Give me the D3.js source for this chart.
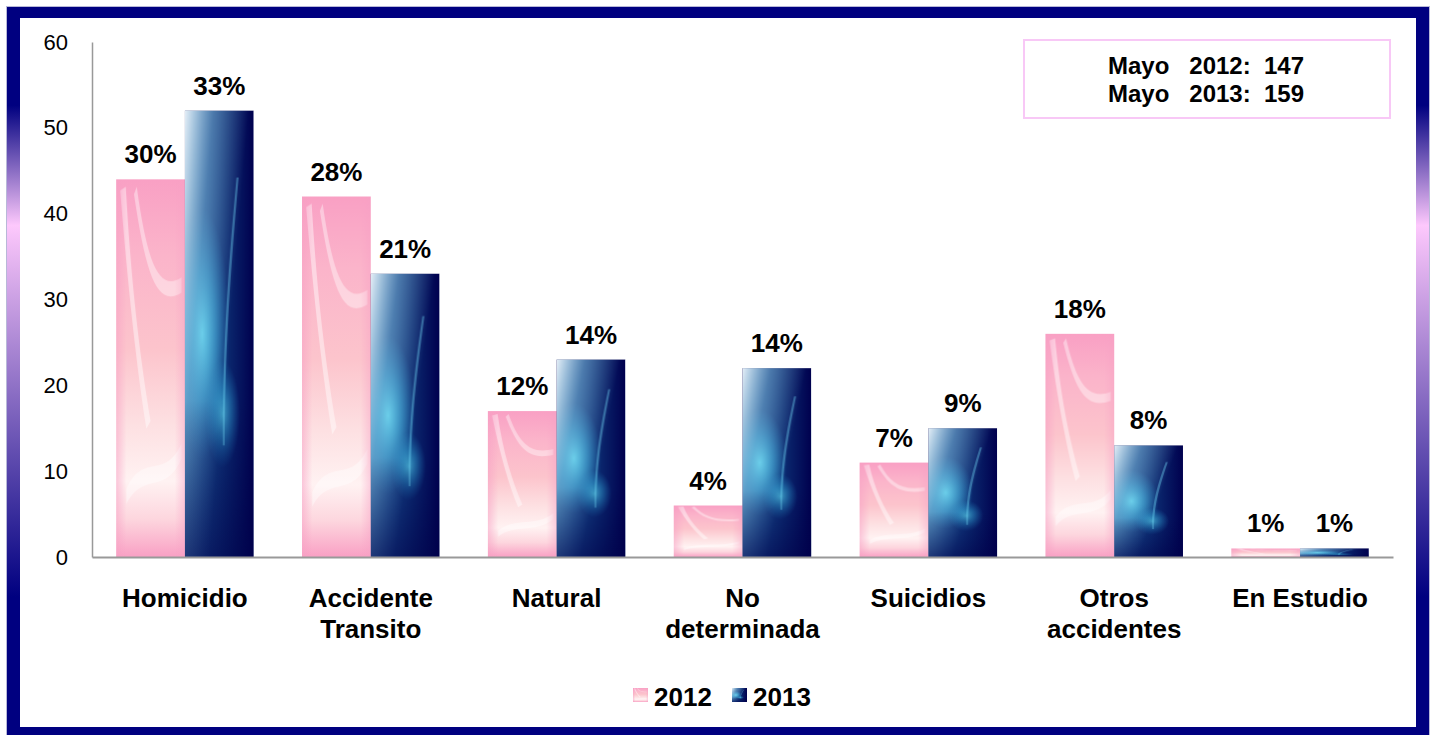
<!DOCTYPE html>
<html>
<head>
<meta charset="utf-8">
<script src="https://cdn.jsdelivr.net/npm/d3@7"></script>
<style>
  body { margin: 0; background: #fff; }
  text { font-family: Arial, "Liberation Sans", sans-serif; }
</style>
</head>
<body>
<script>
var categories = [["Homicidio"], ["Accidente", "Transito"], ["Natural"], ["No", "determinada"], ["Suicidios"], ["Otros", "accidentes"], ["En Estudio"]];
var values2012 = [44, 42, 17, 6, 11, 26, 1];
var values2013 = [52, 33, 23, 22, 15, 13, 1];
var pct2012 = ["30%", "28%", "12%", "4%", "7%", "18%", "1%"];
var pct2013 = ["33%", "21%", "14%", "14%", "9%", "8%", "1%"];
var yTicks = [0, 10, 20, 30, 40, 50, 60];
var seriesNames = ["2012", "2013"];
var totalsText = ["Mayo   2012:  147", "Mayo   2013:  159"];

var width = 1430, height = 735;

var svg = d3.select("body").append("svg")
    .attr("width", width)
    .attr("height", height);

var defs = svg.append("defs");

function linGrad(id, x1, y1, x2, y2, stops) {
  var g = defs.append("linearGradient").attr("id", id)
      .attr("x1", x1).attr("y1", y1).attr("x2", x2).attr("y2", y2);
  stops.forEach(function(s) {
    g.append("stop").attr("offset", s[0]).attr("stop-color", s[1])
     .attr("stop-opacity", s[2] == null ? 1 : s[2]);
  });
  return g;
}

// frame side gradient
linGrad("gSide", 0, 0, 0, 1, [[0, "#000080"], [0.135, "#000080"], [0.30, "#fdc8fc"], [0.81, "#000080"], [1, "#000080"]]);

// pink bar look
linGrad("gPinkV", 0, 0, 0, 1, [[0, "#f9a0c4"], [0.2, "#fbb4ca"], [0.45, "#fcc4cc"], [0.65, "#fde0e2"], [0.8, "#fff2f2"], [0.9, "#fdd6de"], [1, "#f9a0c4"]]);
linGrad("gPinkH", 0, 0, 1, 0, [[0, "#f7a0c4", 0.55], [0.15, "#f7a0c4", 0], [0.85, "#f7a0c4", 0], [1, "#f7a0c4", 0.45]]);

// blue bar look
linGrad("gBlueH", 0, 0, 1, 0, [[0, "#2f74ac"], [0.25, "#1b5091"], [0.6, "#0b2a70"], [1, "#00004e"]]);
linGrad("gBlueTop", 0, 0, 0.7, 0.4, [[0, "#eef4fa", 0.95], [0.45, "#8fc0de", 0.45], [1, "#8fc0de", 0]]);
linGrad("gBlueBot", 0, 0, 0, 1, [[0, "#00004a", 0], [0.65, "#00004a", 0], [1, "#00004a", 0.6]]);
var rc = defs.append("radialGradient").attr("id", "rCyan");
rc.append("stop").attr("offset", 0).attr("stop-color", "#5fe4fa").attr("stop-opacity", 0.9);
rc.append("stop").attr("offset", 0.5).attr("stop-color", "#38bce8").attr("stop-opacity", 0.5);
rc.append("stop").attr("offset", 1).attr("stop-color", "#2aa0d8").attr("stop-opacity", 0);

var pPink = defs.append("pattern").attr("id", "pPink")
    .attr("patternUnits", "objectBoundingBox").attr("patternContentUnits", "objectBoundingBox")
    .attr("width", 1).attr("height", 1);
pPink.append("rect").attr("width", 1).attr("height", 1).attr("fill", "url(#gPinkV)");
pPink.append("path").attr("d", "M0.06,0.03 C0.18,0.3 0.3,0.5 0.44,0.66 L0.5,0.64 C0.34,0.46 0.22,0.28 0.14,0.02 Z")
    .attr("fill", "#fff").attr("opacity", 0.45);
pPink.append("path").attr("d", "M0.3,0.02 C0.45,0.22 0.62,0.3 0.95,0.26 L0.95,0.3 C0.6,0.34 0.44,0.26 0.26,0.04 Z")
    .attr("fill", "#fff").attr("opacity", 0.4);
pPink.append("path").attr("d", "M0.15,0.82 C0.4,0.72 0.7,0.8 0.95,0.7 L0.95,0.74 C0.7,0.84 0.4,0.77 0.15,0.86 Z")
    .attr("fill", "#fff").attr("opacity", 0.4);
pPink.append("rect").attr("width", 1).attr("height", 1).attr("fill", "url(#gPinkH)");

var pBlue = defs.append("pattern").attr("id", "pBlue")
    .attr("patternUnits", "objectBoundingBox").attr("patternContentUnits", "objectBoundingBox")
    .attr("width", 1).attr("height", 1);
pBlue.append("rect").attr("width", 1).attr("height", 1).attr("fill", "url(#gBlueH)");
pBlue.append("ellipse").attr("cx", 0.25).attr("cy", 0.5).attr("rx", 0.4).attr("ry", 0.28).attr("fill", "url(#rCyan)");
pBlue.append("ellipse").attr("cx", 0.55).attr("cy", 0.68).attr("rx", 0.25).attr("ry", 0.12).attr("fill", "url(#rCyan)").attr("opacity", 0.7);
pBlue.append("path").attr("d", "M0.75,0.15 C0.6,0.4 0.55,0.55 0.55,0.75 L0.58,0.75 C0.58,0.55 0.64,0.4 0.78,0.15 Z")
    .attr("fill", "#6fd8f4").attr("opacity", 0.4);
pBlue.append("rect").attr("width", 1).attr("height", 1).attr("fill", "url(#gBlueTop)");
pBlue.append("rect").attr("width", 1).attr("height", 1).attr("fill", "url(#gBlueBot)");

// frame
svg.append("rect").attr("x", 6.5).attr("y", 6.5).attr("width", 1423).attr("height", 729)
    .attr("fill", "#000080").attr("stroke", "#b8b8d8").attr("stroke-width", 1);
svg.append("rect").attr("x", 7).attr("y", 7).attr("width", 13).attr("height", 728).attr("fill", "url(#gSide)");
svg.append("rect").attr("x", 1416).attr("y", 7).attr("width", 13).attr("height", 728).attr("fill", "url(#gSide)");
svg.append("rect").attr("x", 7).attr("y", 7).attr("width", 1422).attr("height", 11).attr("fill", "#000080");
svg.append("rect").attr("x", 7).attr("y", 727).attr("width", 1422).attr("height", 8).attr("fill", "#000080");
svg.append("rect").attr("x", 20).attr("y", 18).attr("width", 1396).attr("height", 709).attr("fill", "#fff");

var x = d3.scaleBand().domain(d3.range(categories.length))
    .range([92, 1393]).paddingInner(0.26).paddingOuter(0.13);
var y = d3.scaleLinear().domain([0, 60]).range([557, 42]);
var half = x.bandwidth() / 2;

// y axis
var yAxis = svg.append("g").attr("transform", "translate(92,0)")
    .call(d3.axisLeft(y).tickValues(yTicks).tickSize(0).tickSizeOuter(0).tickPadding(24));
yAxis.select(".domain").attr("stroke", "#999").attr("stroke-width", 1.5);
yAxis.selectAll("text").attr("font-size", 22).attr("fill", "#000")
    .style("font-family", "Arial, 'Liberation Sans', sans-serif");

// bars
var groups = svg.append("g").selectAll("g")
    .data(categories).enter().append("g");

groups.append("rect")
    .attr("x", function(d, i) { return x(i); })
    .attr("y", function(d, i) { return y(values2012[i]); })
    .attr("width", half)
    .attr("height", function(d, i) { return y(0) - y(values2012[i]); })
    .attr("fill", "url(#pPink)");

groups.append("rect")
    .attr("x", function(d, i) { return x(i) + half; })
    .attr("y", function(d, i) { return y(values2013[i]); })
    .attr("width", half)
    .attr("height", function(d, i) { return y(0) - y(values2013[i]); })
    .attr("fill", "url(#pBlue)");

// x axis
var xAxis = svg.append("g").attr("transform", "translate(0,557)")
    .call(d3.axisBottom(x).tickSize(0).tickSizeOuter(0).tickFormat(""));
xAxis.select(".domain").attr("stroke", "#999").attr("stroke-width", 2);

// percent labels
groups.append("text")
    .attr("x", function(d, i) { return x(i) + half / 2; })
    .attr("y", function(d, i) { return y(values2012[i]) - 16; })
    .attr("text-anchor", "middle").attr("font-size", 26).attr("font-weight", "bold")
    .text(function(d, i) { return pct2012[i]; });

groups.append("text")
    .attr("x", function(d, i) { return x(i) + half * 1.5; })
    .attr("y", function(d, i) { return y(values2013[i]) - 16; })
    .attr("text-anchor", "middle").attr("font-size", 26).attr("font-weight", "bold")
    .text(function(d, i) { return pct2013[i]; });

// category labels
var cat = groups.append("text")
    .attr("text-anchor", "middle").attr("font-size", 26).attr("font-weight", "bold")
    .attr("y", 607);
cat.selectAll("tspan")
    .data(function(d, i) { return d.map(function(t) { return {t: t, i: i}; }); })
    .enter().append("tspan")
    .attr("x", function(d) { return x(d.i) + x.bandwidth() / 2; })
    .attr("dy", function(d, j) { return j ? 31 : 0; })
    .text(function(d) { return d.t; });

// legend
var legendX = [633, 732];
var leg = svg.append("g").selectAll("g").data(seriesNames).enter().append("g")
    .attr("transform", function(d, i) { return "translate(" + legendX[i] + ",688)"; });
leg.append("rect").attr("width", 15).attr("height", 14)
    .attr("fill", function(d, i) { return i ? "url(#pBlue)" : "url(#pPink)"; });
leg.append("text").attr("x", 21).attr("y", 18)
    .attr("font-size", 26).attr("font-weight", "bold")
    .text(function(d) { return d; });

// totals box
svg.append("rect").attr("x", 1024).attr("y", 40).attr("width", 366).attr("height", 78)
    .attr("fill", "#fff").attr("stroke", "#f8c8f6").attr("stroke-width", 2);
svg.append("g").selectAll("text").data(totalsText).enter().append("text")
    .attr("x", 1206).attr("y", function(d, i) { return 74 + i * 28; })
    .attr("text-anchor", "middle").attr("font-size", 24).attr("font-weight", "bold")
    .style("white-space", "pre")
    .text(function(d) { return d; });
</script>
</body>
</html>
